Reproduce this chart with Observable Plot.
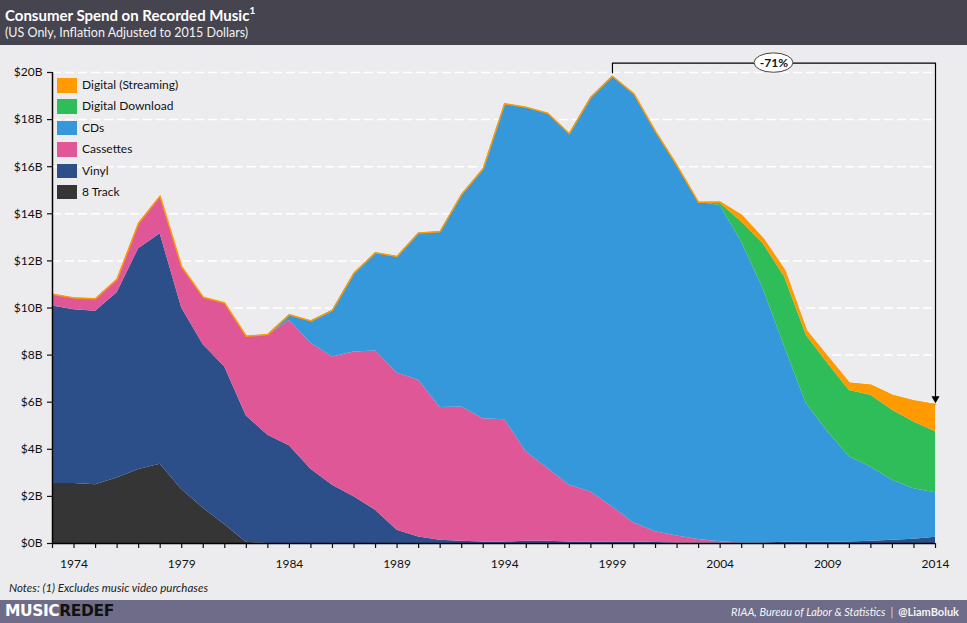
<!DOCTYPE html>
<html>
<head>
<meta charset="utf-8">
<script src="https://cdn.jsdelivr.net/npm/d3@7"></script>
<script src="https://cdn.jsdelivr.net/npm/@observablehq/plot@0.6"></script>
<style>
  html, body { margin: 0; padding: 0; background: #ECECEE; }
  #wrap { position: relative; width: 967px; height: 623px; overflow: hidden; background: #ECECEE; font-family: Lato, "Open Sans", sans-serif; }
  #header { position: absolute; left: 0; top: 0; width: 967px; height: 45px; background: #46444F; color: #fff; }
  #title { position: absolute; left: 5px; top: 5px; font-size: 15px; font-weight: 700; white-space: nowrap; }
  #title sup { font-size: 10px; position: relative; top: -1px; }
  #subtitle { position: absolute; left: 5px; top: 25px; font-size: 12.5px; color: #f2f2f2; white-space: nowrap; }
  #chart { position: absolute; left: 0; top: 45px; }
  #legend { position: absolute; left: 57px; top: 78px; font-size: 12px; color: #111; }
  .lg { position: relative; height: 21.4px; white-space: nowrap; }
  .sw { position: absolute; left: 0; top: 0; width: 20px; height: 14.5px; }
  .lt { position: absolute; left: 25px; top: -1px; line-height: 16px; }
  #notes { position: absolute; left: 9px; top: 581px; font-size: 11.5px; font-style: italic; color: #222; white-space: nowrap; }
  #footer { position: absolute; left: 0; top: 600px; width: 967px; height: 23px; background: #6E6C89; }
  #logo { position: absolute; left: 5px; top: 2px; font-family: "DejaVu Sans", sans-serif; font-weight: 900; font-size: 15.5px; letter-spacing: -0.4px; white-space: nowrap; }
  #logo .a { color: #fff; }
  #logo .b { color: #111; }
  #source { position: absolute; right: 8px; top: 5px; font-size: 11px; color: #f4f4f4; white-space: nowrap; }
  #source i { font-style: italic; }
  #source .sep { color: #ddd; margin: 0 5px; }
  #source b { font-weight: 700; }
</style>
</head>
<body>
<div id="wrap">
  <div id="header">
    <div id="title">Consumer Spend on Recorded Music<sup>1</sup></div>
    <div id="subtitle">(US Only, Inflation Adjusted to 2015 Dollars)</div>
  </div>
  <div id="chart"></div>
  <div id="legend"></div>
  <div id="notes">Notes: (1) Excludes music video purchases</div>
  <div id="footer">
    <div id="logo"><span class="a">MUSIC</span><span class="b">REDEF</span></div>
    <div id="source"><i>RIAA, Bureau of Labor &amp; Statistics</i><span class="sep">|</span><b>@LiamBoluk</b></div>
  </div>
</div>
<script>
// ---- Data (US$ billions, 2015 dollars), years 1973..2014 ----
const years = [1973,1974,1975,1976,1977,1978,1979,1980,1981,1982,
               1983,1984,1985,1986,1987,1988,1989,1990,1991,1992,
               1993,1994,1995,1996,1997,1998,1999,2000,2001,2002,
               2003,2004,2005,2006,2007,2008,2009,2010,2011,2012,
               2013,2014];

const eightTrack = [2.55,2.55,2.5,2.78,3.14,3.36,2.29,1.5,0.8,0.05,
                    0,0,0,0,0,0,0,0,0,0,
                    0,0,0,0,0,0,0,0,0,0,
                    0,0,0,0,0,0,0,0,0,0,
                    0,0];

const vinyl = [7.53,7.38,7.36,7.87,9.38,9.79,7.71,6.94,6.69,5.36,
               4.6,4.15,3.15,2.47,1.98,1.41,0.56,0.28,0.14,0.1,
               0.06,0.06,0.1,0.1,0.06,0.06,0.06,0.06,0.04,0.02,
               0.02,0.02,0.02,0.02,0.05,0.05,0.05,0.06,0.1,0.14,
               0.18,0.27];

const cassettes = [0.5,0.49,0.53,0.57,1.08,1.6,1.75,2.02,2.72,3.39,
                   4.24,5.32,5.35,5.45,6.15,6.76,6.68,6.65,5.63,5.7,
                   5.24,5.2,3.79,3.08,2.41,2.13,1.49,0.81,0.46,0.3,
                   0.15,0.05,0,0,0,0,0,0,0,0,
                   0,0];

const cds = [0,0,0,0,0,0,0,0,0,0,
             0.03,0.24,0.95,1.98,3.35,4.18,4.95,6.25,7.47,9.02,
             10.61,13.41,14.63,15.09,14.93,16.76,18.29,18.22,17.0,15.73,
             14.32,14.28,12.78,10.8,8.29,5.89,4.69,3.62,3.15,2.55,
             2.15,1.89];

const download = [0,0,0,0,0,0,0,0,0,0,
                  0,0,0,0,0,0,0,0,0,0,
                  0,0,0,0,0,0,0,0,0,0,
                  0,0.1,0.85,1.91,2.97,2.9,2.9,2.82,3.04,2.97,
                  2.83,2.58];

const streaming = [0,0,0,0,0,0,0,0,0,0,
                   0,0,0,0,0,0,0,0,0,0,
                   0,0,0,0,0,0,0,0,0,0,
                   0,0.05,0.28,0.21,0.29,0.21,0.28,0.31,0.43,0.63,
                   0.89,1.16];

// stacking order: bottom -> top
const seriesNames  = ["8 Track", "Vinyl", "Cassettes", "CDs", "Digital Download", "Digital (Streaming)"];
const seriesValues = [eightTrack, vinyl, cassettes, cds, download, streaming];
const seriesColors = ["#353535", "#2C4F8A", "#DF5797", "#3598DB", "#2FBD5A", "#FF9A00"];

const yTicks = [0,2,4,6,8,10,12,14,16,18,20];
const xLabelYears = [1974,1979,1984,1989,1994,1999,2004,2009,2014];
const changeLabel = "-71%";

// ---- Build table ----
const rows = [];
years.forEach((yr, i) => {
  seriesNames.forEach((name, k) => rows.push({year: yr, series: name, value: seriesValues[k][i]}));
});
const totals = years.map((yr, i) => d3.sum(seriesValues, s => s[i]));
const peakIdx = d3.maxIndex(totals);
const lastIdx = years.length - 1;
const bracketY = 20.4;
const bracket = [
  {x: years[peakIdx], y: totals[peakIdx] + 0.15},
  {x: years[peakIdx], y: bracketY},
  {x: years[lastIdx], y: bracketY},
  {x: years[lastIdx], y: totals[lastIdx] + 0.3}
];
const labelX = (years[peakIdx] + years[lastIdx]) / 2;

const chart = Plot.plot({
  width: 967,
  height: 536,
  marginLeft: 52,
  marginRight: 32,
  marginTop: 27,
  marginBottom: 38,
  style: {fontFamily: "Lato, 'Open Sans', sans-serif", fontSize: "12px", color: "#111", background: "transparent", overflow: "visible"},
  x: {domain: [years[0], years[lastIdx]]},
  y: {domain: [0, 20]},
  color: {domain: seriesNames, range: seriesColors},
  marks: [
    Plot.ruleY(yTicks.filter(v => v > 0), {stroke: "#ffffff", strokeWidth: 1.5, strokeDasharray: "9,4"}),
    Plot.areaY(rows, {x: "year", y: "value", fill: "series", order: seriesNames}),
    Plot.lineY(years, {x: d => d, y: (d, i) => totals[i], stroke: "#FF9A00", strokeWidth: 1.5}),
    Plot.ruleX([years[0]], {y1: 0, y2: 20, stroke: "#000", strokeWidth: 1.5}),
    Plot.ruleY([0], {stroke: "#000", strokeWidth: 1.5}),
    Plot.axisY({ticks: yTicks, tickFormat: d => `$${d}B`, tickSize: 5, tickPadding: 5, label: null, strokeWidth: 1.2}),
    Plot.axisX({ticks: years, tickFormat: d => xLabelYears.includes(d) ? String(d) : "", tickSize: 5, tickPadding: 11, label: null, strokeWidth: 1.2}),
    Plot.line(bracket, {x: "x", y: "y", stroke: "#000", strokeWidth: 1.2}),
    Plot.dot([{x: years[lastIdx], y: totals[lastIdx]}], {x: "x", y: "y", symbol: "triangle", rotate: 180, r: 3, fill: "#000", stroke: "none", dy: -6}),
    Plot.text([changeLabel], {x: () => labelX, y: () => bracketY, text: d => d, fontWeight: 700, fontSize: 12, fill: "#111"})
  ]
});
document.getElementById("chart").appendChild(chart);

// ellipse behind the percentage label
const sx = chart.scale("x"), sy = chart.scale("y");
const svgSel = d3.select(chart);
svgSel.append("ellipse")
  .attr("cx", sx.apply(labelX)).attr("cy", sy.apply(bracketY))
  .attr("rx", 19.5).attr("ry", 9.7)
  .attr("fill", "#fff").attr("stroke", "#444").attr("stroke-width", 1);
// bring the label's group above the ellipse
svgSel.selectAll("text").filter(function() { return this.textContent === changeLabel; })
  .each(function() {
    let g = this;
    while (g.parentNode && g.parentNode !== chart) g = g.parentNode;
    chart.appendChild(g);
  });

// legend (top to bottom, reverse of stacking)
const legend = d3.select("#legend");
seriesNames.slice().reverse().forEach(name => {
  const k = seriesNames.indexOf(name);
  const row = legend.append("div").attr("class", "lg");
  row.append("div").attr("class", "sw").style("background", seriesColors[k]);
  row.append("div").attr("class", "lt").text(name);
});
</script>
</body>
</html>
